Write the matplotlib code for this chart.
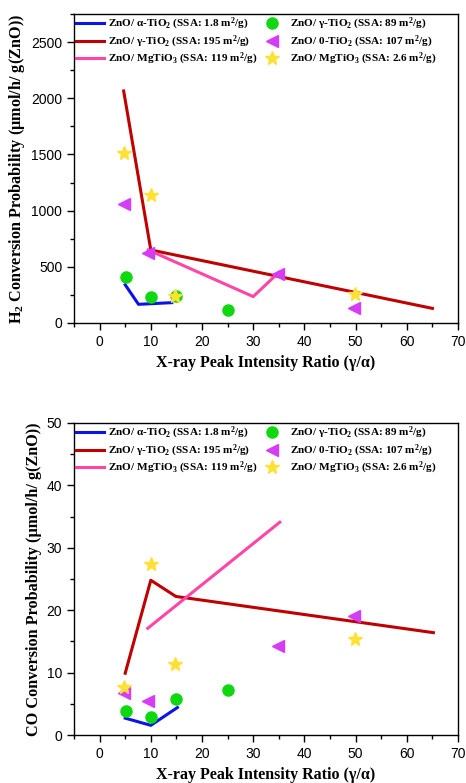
import matplotlib
matplotlib.use("Agg")
import matplotlib.pyplot as plt
from matplotlib.ticker import MultipleLocator

plt.rcParams['mathtext.fontset'] = 'custom'
plt.rcParams['mathtext.rm'] = 'Liberation Serif:bold'
plt.rcParams['mathtext.bf'] = 'Liberation Serif:bold'
plt.rcParams['mathtext.it'] = 'Liberation Serif:bold'

# ---------- H2 chart data ----------
h2_alpha_x = [5, 7.6, 14.1]
h2_alpha_y = [340, 166, 181]
h2_gamma195_x = [4.7, 10, 65]
h2_gamma195_y = [2065, 650, 130]
h2_mg119_x = [9.5, 30, 35]
h2_mg119_y = [650, 235, 450]
h2_gamma89_x = [5.2, 10, 15, 25]
h2_gamma89_y = [406, 234, 237, 113]
h2_zero107_x = [4.7, 9.5, 34.9, 49.6]
h2_zero107_y = [1056, 620, 433, 130]
h2_mg26_x = [4.7, 10, 14.7, 49.8]
h2_mg26_y = [1510, 1142, 237, 258]

# ---------- CO chart data ----------
co_alpha_x = [5, 10, 15.2]
co_alpha_y = [2.7, 1.55, 4.4]
co_gamma195_x = [5, 10, 14.9, 65.2]
co_gamma195_y = [9.9, 24.8, 22.2, 16.4]
co_mg119_x = [9.4, 35.2]
co_mg119_y = [17.1, 34.1]
co_gamma89_x = [5.2, 10, 14.9, 25]
co_gamma89_y = [3.9, 2.9, 5.8, 7.2]
co_zero107_x = [4.7, 9.5, 34.9, 49.6]
co_zero107_y = [6.8, 5.5, 14.3, 19.0]
co_mg26_x = [4.7, 10, 14.7, 49.9]
co_mg26_y = [7.75, 27.4, 11.3, 15.35]

labels = [
    r"ZnO/ α-TiO$_2$ (SSA: 1.8 m$^2$/g)",
    r"ZnO/ γ-TiO$_2$ (SSA: 195 m$^2$/g)",
    r"ZnO/ MgTiO$_3$ (SSA: 119 m$^2$/g)",
    r"ZnO/ γ-TiO$_2$ (SSA: 89 m$^2$/g)",
    r"ZnO/ 0-TiO$_2$ (SSA: 107 m$^2$/g)",
    r"ZnO/ MgTiO$_3$ (SSA: 2.6 m$^2$/g)",
]
x_ticks = [0, 10, 20, 30, 40, 50, 60, 70]

c_blue = '#0a14e6'
c_red = '#c00000'
c_pink = '#ff45a5'
c_green = '#10d810'
c_mag = '#d43cf5'
c_star = '#ffe135'

fig = plt.figure(figsize=(4.66, 7.83), dpi=100)
ax1 = fig.add_axes([0.1588, 0.5875, 0.8240, 0.3946])
ax2 = fig.add_axes([0.1588, 0.0613, 0.8240, 0.3985])

serif_bold = dict(family='Liberation Serif', weight='bold')

def draw(ax, data, ylim, ymaj, ymin, ylabel):
    (ax_x, ax_y), (g_x, g_y), (m_x, m_y), (g89_x, g89_y), (z_x, z_y), (s_x, s_y) = data
    lw = 2.2
    ax.plot(ax_x, ax_y, color=c_blue, lw=lw, label=labels[0])
    ax.plot(g_x, g_y, color=c_red, lw=lw, label=labels[1])
    ax.plot(m_x, m_y, color=c_pink, lw=lw, label=labels[2])
    ax.plot(g89_x, g89_y, ls='none', marker='o', ms=8, color=c_green, label=labels[3])
    ax.plot(z_x, z_y, ls='none', marker='<', ms=9, color=c_mag, label=labels[4])
    ax.plot(s_x, s_y, ls='none', marker='*', ms=10.5, color=c_star, label=labels[5])
    ax.set_xlim(-5, 70)
    ax.set_ylim(*ylim)
    ax.set_xticks(x_ticks)
    ax.xaxis.set_minor_locator(MultipleLocator(5))
    ax.yaxis.set_major_locator(MultipleLocator(ymaj))
    ax.yaxis.set_minor_locator(MultipleLocator(ymin))
    ax.tick_params(which='both', direction='out', top=False, right=False)
    ax.tick_params(which='major', length=5, width=1)
    ax.tick_params(which='minor', length=3, width=1)
    for lab in ax.get_xticklabels() + ax.get_yticklabels():
        lab.set_family('Liberation Sans')
        lab.set_fontsize(10)
    for sp in ax.spines.values():
        sp.set_linewidth(1.0)
    ax.set_xlabel("X-ray Peak Intensity Ratio (γ/α)", fontsize=11.5, labelpad=4.5, **serif_bold)
    ax.set_ylabel(ylabel, fontsize=11.7, labelpad=3, **serif_bold)
    ax.legend(loc='upper left', ncol=2, frameon=False,
              prop=dict(family='Liberation Serif', weight='bold', size=8.1),
              handlelength=2.5, handletextpad=0.3, columnspacing=0.1,
              labelspacing=0.13, borderaxespad=0.05, borderpad=0.15)

draw(ax1,
     [(h2_alpha_x, h2_alpha_y), (h2_gamma195_x, h2_gamma195_y), (h2_mg119_x, h2_mg119_y),
      (h2_gamma89_x, h2_gamma89_y), (h2_zero107_x, h2_zero107_y), (h2_mg26_x, h2_mg26_y)],
     (0, 2750), 500, 250, r"H$_2$ Conversion Probability (μmol/h/ g(ZnO))")
draw(ax2,
     [(co_alpha_x, co_alpha_y), (co_gamma195_x, co_gamma195_y), (co_mg119_x, co_mg119_y),
      (co_gamma89_x, co_gamma89_y), (co_zero107_x, co_zero107_y), (co_mg26_x, co_mg26_y)],
     (0, 50), 10, 5, "CO Conversion Probability (μmol/h/ g(ZnO))")

fig.savefig("out.png", dpi=100)
